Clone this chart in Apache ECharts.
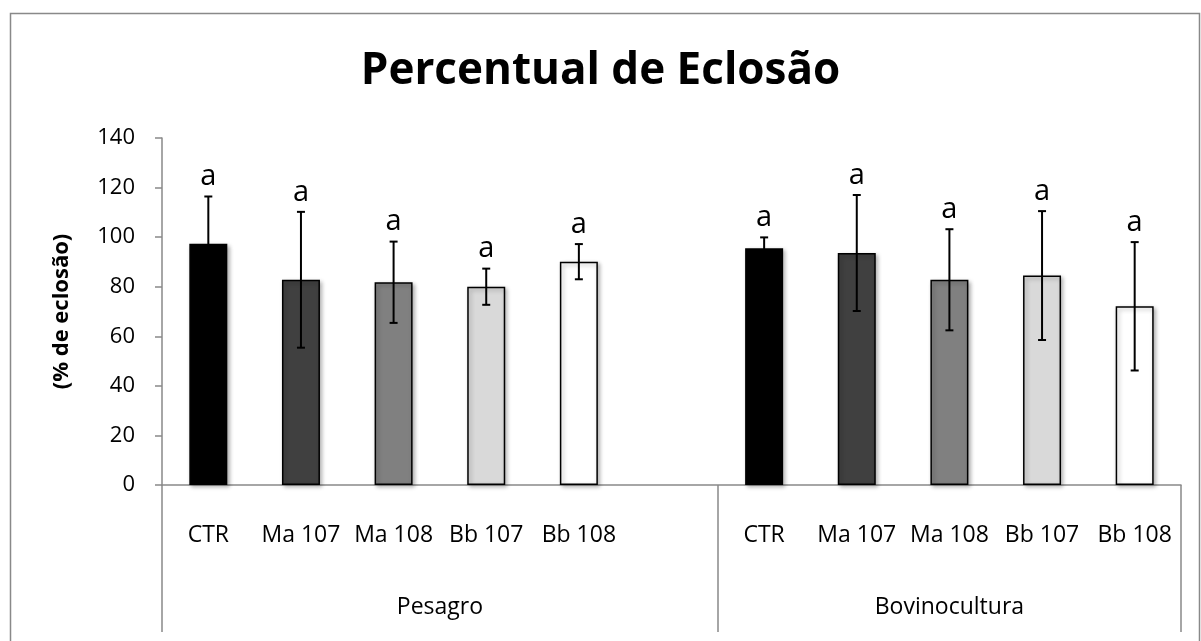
<!DOCTYPE html>
<html>
<head>
<meta charset="utf-8">
<script src="https://cdn.jsdelivr.net/npm/echarts@6/dist/echarts.min.js"></script>
<style>
html,body{margin:0;padding:0;background:#fff;}
#c{width:1201px;height:641px;}
</style>
</head>
<body>
<div id="c"></div>
<script>
// ---- data ----
const groups = ['Pesagro', 'Bovinocultura'];
const treatments = ['CTR', 'Ma 107', 'Ma 108', 'Bb 107', 'Bb 108'];
const pesagroValues = [97.3, 82.8, 81.8, 80.0, 90.1];
const pesagroErrors = [19.1, 27.4, 16.4, 7.3, 7.1];
const bovinoValues = [95.5, 93.6, 82.8, 84.5, 72.1];
const bovinoErrors = [4.4, 23.4, 20.4, 26.0, 25.9];
const letters = ['a', 'a', 'a', 'a', 'a', '', 'a', 'a', 'a', 'a', 'a'];
const yTicks = [0, 20, 40, 60, 80, 100, 120, 140];
const barColors = ['#000000', '#404040', '#808080', '#d9d9d9', '#ffffff'];

// ---- build ----
const categories = treatments.concat(['']).concat(treatments);
const values = pesagroValues.concat([null]).concat(bovinoValues);
const errors = pesagroErrors.concat([null]).concat(bovinoErrors);
const groupSizes = [treatments.length + 1, treatments.length];
const groupCenters = [];
let acc = 0;
groupSizes.forEach(s => { groupCenters.push(acc + s / 2); acc += s; });

const barData = values.map((v, i) => v == null ? '-' : {
  value: v,
  itemStyle: { color: barColors[i % 6] }
});
const errData = [];
values.forEach((v, i) => { if (v != null) errData.push([i, v, errors[i]]); });

const FONT = 'Open Sans';
const chart = echarts.init(document.getElementById('c'), null, { renderer: 'canvas' });
chart.setOption({
  backgroundColor: '#ffffff',
  animation: false,
  title: {
    text: 'Percentual de Eclosão',
    left: 'center',
    top: 44,
    textStyle: { fontFamily: FONT, fontWeight: 'bold', fontSize: 44, color: '#000' }
  },
  graphic: [{
    type: 'rect',
    left: 8, top: 11,
    shape: { width: 1189, height: 700 },
    style: { fill: 'none', stroke: '#898989', lineWidth: 1.5 },
    silent: true
  }],
  grid: { left: 162, right: 20, top: 138, bottom: 156 },
  xAxis: [{
    type: 'category',
    data: categories,
    axisLine: { show: true, lineStyle: { color: '#898989', width: 1.5 } },
    axisTick: {
      show: true, length: 147,
      interval: (idx) => idx === 0 || idx === groupSizes[0],
      lineStyle: { color: '#898989', width: 1.5 }
    },
    axisLabel: {
      interval: 0, margin: 39, fontFamily: FONT, fontSize: 23, color: '#000'
    },
    splitLine: { show: false }
  }, {
    type: 'value',
    position: 'bottom',
    min: 0, max: acc,
    axisLine: { show: false },
    axisTick: { show: false },
    splitLine: { show: false },
    axisLabel: {
      customValues: groupCenters,
      formatter: (v) => groups[groupCenters.indexOf(v)] || '',
      margin: 111, fontFamily: FONT, fontSize: 23, color: '#000'
    }
  }],
  yAxis: {
    type: 'value',
    min: 0, max: 140, interval: 20,
    name: '(% de eclosão)',
    nameLocation: 'middle',
    nameRotate: 90,
    nameGap: 89,
    nameTextStyle: { fontFamily: FONT, fontWeight: 'bold', fontSize: 22, color: '#000' },
    axisLine: { show: true, lineStyle: { color: '#898989', width: 1.5 } },
    axisTick: { show: true, length: 7, lineStyle: { color: '#898989', width: 1.5 } },
    axisLabel: {
      margin: 27, fontFamily: FONT, fontSize: 22, color: '#000',
      customValues: yTicks
    },
    splitLine: { show: false }
  },
  series: [{
    type: 'bar',
    xAxisIndex: 0,
    data: barData,
    barWidth: 38,
    itemStyle: {
      borderColor: '#000', borderWidth: 1.5,
      shadowBlur: 4, shadowOffsetX: 2, shadowOffsetY: 2, shadowColor: 'rgba(0,0,0,0.3)'
    },
    z: 2
  }, {
    type: 'custom',
    xAxisIndex: 0,
    data: errData,
    z: 5,
    renderItem: function (params, api) {
      const x = api.value(0), v = api.value(1), e = api.value(2);
      const top = api.coord([x, v + e]);
      const bot = api.coord([x, v - e]);
      const hw = 4;
      return {
        type: 'group',
        children: [
          { type: 'line', shape: { x1: top[0], y1: top[1], x2: bot[0], y2: bot[1] }, style: { stroke: '#000', lineWidth: 2 } },
          { type: 'line', shape: { x1: top[0] - hw, y1: top[1], x2: top[0] + hw, y2: top[1] }, style: { stroke: '#000', lineWidth: 2 } },
          { type: 'line', shape: { x1: bot[0] - hw, y1: bot[1], x2: bot[0] + hw, y2: bot[1] }, style: { stroke: '#000', lineWidth: 2 } },
          { type: 'text', x: top[0], y: top[1] - 5, style: {
              text: letters[x], fill: '#000', font: '29px "' + FONT + '"',
              textAlign: 'center', textVerticalAlign: 'bottom'
          } }
        ]
      };
    }
  }]
});
</script>
</body>
</html>
